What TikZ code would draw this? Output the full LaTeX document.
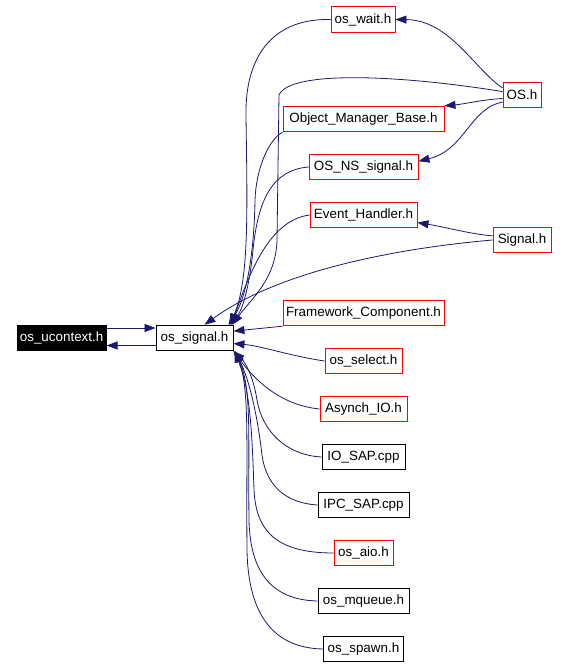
\documentclass[tikz,border=0pt]{standalone}
\usepackage{fontspec}
\setmainfont{Liberation Sans}
\usetikzlibrary{positioning,arrows.meta}

\definecolor{edgeblue}{RGB}{25,25,112}

\tikzset{
  file/.style={draw=black, line width=0.9pt, inner xsep=0pt, inner ysep=0pt,
    minimum height=25.5pt, font=\fontsize{13.4}{15}\selectfont},
  redfile/.style={file, draw=red},
  mainfile/.style={file, fill=black, text=white},
  dep/.style={draw=edgeblue, line width=0.8pt, -{Triangle[length=11pt,width=8pt]}}
}

\begin{document}
\begin{tikzpicture}[x=1pt, y=-1pt, node distance=21.6pt]

  \useasboundingbox (0,0) rectangle (568,667);

  % Define nodes
  \node[file, minimum width=77pt] (signal) at (194.5,338) {os\_signal.h};
  \node[mainfile, minimum width=89pt, left=49pt of signal] (ucontext) {os\_ucontext.h};
  \node[redfile, minimum width=64pt] (wait) at (363,19.5) {os\_wait.h};
  \node[redfile, minimum width=38pt] (os) at (522,95) {OS.h};
  \node[redfile, minimum width=161pt] (omb) at (363.5,119) {Object\_Manager\_Base.h};
  \node[redfile, minimum width=109pt, below=of omb] (nssignal) {OS\_NS\_signal.h};
  \node[redfile, minimum width=107pt, below=of nssignal] (evh) {Event\_Handler.h};
  \node[redfile, minimum width=58pt] (sig) at (522,240) {Signal.h};
  \node[redfile, minimum width=161pt] (fwc) at (363.5,313) {Framework\_Component.h};
  \node[redfile, minimum width=77pt, below=of fwc] (select) {os\_select.h};
  \node[redfile, minimum width=87pt, below=of select] (asynch) {Asynch\_IO.h};
  \node[file, minimum width=83pt, below=of asynch] (iosap) {IO\_SAP.cpp};
  \node[file, minimum width=91pt, below=of iosap] (ipcsap) {IPC\_SAP.cpp};
  \node[redfile, minimum width=59pt, below=of ipcsap] (aio) {os\_aio.h};
  \node[file, minimum width=91pt, below=of aio] (mqueue) {os\_mqueue.h};
  \node[file, minimum width=80pt, below=of mqueue] (spawn) {os\_spawn.h};

  % Connect the nodes
  \draw[dep] ([yshift=10pt]ucontext.east) -- ([yshift=10pt]signal.west);
  \draw[dep] ([yshift=-7.5pt]signal.west) -- ([yshift=-7.5pt]ucontext.east);
  \draw[dep] (os.160) .. controls (475,70) and (450,20) .. (wait.east);
  \draw[dep] (os.190) .. controls (480,100) and (465,104) .. (omb.north east);
  \draw[dep] (os.200) .. controls (470,108) and (465,150) .. (nssignal.6);
  \draw[dep] (sig.172) .. controls (470,234) and (445,227) .. (evh.-8);
  \draw[dep] (wait.west) .. controls (270,18) and (245,60) .. (246,115)
    .. controls (247,200) and (250,280) .. ([xshift=-4pt]signal.north east);
  \draw[dep] (os.170) .. controls (400,75) and (290,70) .. (279,95) -- (277,240)
    .. controls (276,280) and (250,300) .. ([xshift=-1pt]signal.north east);
  \draw[dep] (omb.south west) .. controls (268,140) and (256,170) .. (255,200)
    .. controls (254,260) and (245,300) .. ([xshift=-5pt]signal.north east);
  \draw[dep] (nssignal.west) .. controls (272,170) and (258,200) .. (253,250)
    .. controls (249,290) and (242,310) .. ([xshift=-3pt]signal.north east);
  \draw[dep] (evh.west) .. controls (272,220) and (252,265) .. ([xshift=-2pt]signal.north east);
  \draw[dep] (sig.west) .. controls (400,248) and (280,270) .. ([xshift=10pt]signal.north);
  \draw[dep] (fwc.south west) -- (signal.10);
  \draw[dep] (select.west) .. controls (290,356) and (262,346) .. (signal.-8);
  \draw[dep] (asynch.west) .. controls (280,405) and (255,380) .. (signal.south east);
  \draw[dep] (iosap.west) .. controls (285,455) and (262,430) .. (257,400)
    .. controls (253,375) and (245,362) .. (signal.south east);
  \draw[dep] (ipcsap.west) .. controls (285,503) and (266,485) .. (262,455)
    .. controls (258,420) and (250,380) .. ([xshift=1pt]signal.south east);
  \draw[dep] (aio.west) .. controls (275,553) and (256,530) .. (254,490)
    .. controls (252,430) and (250,390) .. ([xshift=1pt]signal.south east);
  \draw[dep] (mqueue.west) .. controls (270,600) and (250,570) .. (249,520)
    .. controls (248,440) and (252,390) .. ([xshift=2pt]signal.south east);
  \draw[dep] (spawn.west) .. controls (270,648) and (248,610) .. (247,550)
    .. controls (246,450) and (250,390) .. ([xshift=2pt]signal.south east);

\end{tikzpicture}
\end{document}
